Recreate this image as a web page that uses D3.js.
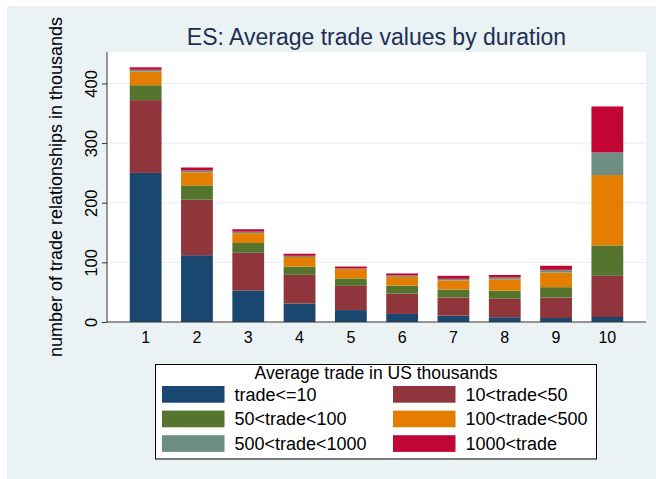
<!DOCTYPE html>
<html>
<head>
  <meta charset="utf-8">
  <title>ES: Average trade values by duration</title>
  <script src="https://d3js.org/d3.v7.min.js"></script>
<style>
  body { margin: 0; background: #fff; }
  svg text { font-family: "Liberation Sans", Arial, sans-serif; }
</style>
</head>
<body>
  <svg width="656" height="479"></svg>
  <script>
    // data (thousands of trade relationships)
    var durations = ["1", "2", "3", "4", "5", "6", "7", "8", "9", "10"];
    var seriesNames = ["trade<=10", "10<trade<50", "50<trade<100", "100<trade<500", "500<trade<1000", "1000<trade"];
    var seriesColors = ["#1a476f", "#90353b", "#55752f", "#e37e00", "#6e8e84", "#c10534"];
    var tradeLe10 = [250, 112, 53, 31, 20, 13.5, 10.7, 8, 6.7, 8.4];
    var trade10to50 = [122, 93, 63, 48, 40.6, 34, 30.3, 31, 34.3, 69];
    var trade50to100 = [25, 24, 16.5, 14, 12.4, 13.5, 13.4, 13.5, 17.4, 51];
    var trade100to500 = [23, 22, 16.5, 16, 15.7, 14.7, 15.2, 19, 24.6, 118];
    var trade500to1000 = [3, 3, 2.5, 2, 1.1, 2.3, 2.8, 3.3, 4.5, 38];
    var tradeGt1000 = [4, 5, 4, 3.5, 3.2, 3.4, 5, 4, 6.8, 77];
    var yTicks = [0, 100, 200, 300, 400];

    var allSeries = [tradeLe10, trade10to50, trade50to100, trade100to500, trade500to1000, tradeGt1000];
    var rows = durations.map(function(d, i) {
      var r = {duration: d};
      seriesNames.forEach(function(s, j) { r[s] = allSeries[j][i]; });
      return r;
    });

    var svg = d3.select("svg");
    var plotLeft = 107, plotRight = 646, plotTop = 52, plotBottom = 322;

    // outer background
    svg.append("rect").attr("x", 7).attr("y", 6).attr("width", 649).attr("height", 473)
      .attr("fill", "#eaf2f3");
    svg.append("rect").attr("x", plotLeft).attr("y", plotTop)
      .attr("width", plotRight - plotLeft).attr("height", plotBottom - plotTop)
      .attr("fill", "#fff");

    var x = d3.scaleBand().domain(durations).range([120, 633])
      .paddingInner(0.38).paddingOuter(0.19);
    var y = d3.scaleLinear().domain([0, 452.7]).range([plotBottom, plotTop]);

    // grid
    svg.append("g").selectAll("line").data(yTicks.slice(1)).enter().append("line")
      .attr("x1", plotLeft).attr("x2", plotRight)
      .attr("y1", function(d) { return y(d); }).attr("y2", function(d) { return y(d); })
      .attr("stroke", "#e6eef1").attr("stroke-width", 1);

    var stacked = d3.stack().keys(seriesNames)(rows);
    svg.append("g").selectAll("g").data(stacked).enter().append("g")
      .attr("fill", function(d, i) { return seriesColors[i]; })
      .selectAll("rect").data(function(d) { return d; }).enter().append("rect")
        .attr("x", function(d) { return x(d.data.duration); })
        .attr("width", x.bandwidth())
        .attr("y", function(d) { return y(d[1]); })
        .attr("height", function(d) { return y(d[0]) - y(d[1]); });

    // y axis
    var yAxis = svg.append("g").attr("transform", "translate(" + plotLeft + ",0)")
      .call(d3.axisLeft(y).tickValues(yTicks).tickSize(5));
    yAxis.select(".domain").attr("stroke", "#333").attr("d", "M0," + plotTop + "V" + plotBottom);
    yAxis.selectAll(".tick line").attr("stroke", "#333");
    yAxis.selectAll(".tick text")
      .attr("font-size", 16.5).attr("fill", "#000")
      .attr("text-anchor", "middle").attr("x", null).attr("y", null).attr("dy", null)
      .attr("transform", "translate(-10,0) rotate(-90)");

    // x axis
    var xAxis = svg.append("g").attr("transform", "translate(0," + plotBottom + ")")
      .call(d3.axisBottom(x).tickSize(0).tickPadding(0));
    xAxis.select(".domain").attr("stroke", "#333").attr("d", "M" + plotLeft + ",0H" + plotRight);
    xAxis.selectAll(".tick text").attr("font-size", 16).attr("fill", "#000")
      .attr("dy", null).attr("y", 21);

    // titles
    svg.append("text").attr("x", (plotLeft + plotRight) / 2).attr("y", 44.5)
      .attr("text-anchor", "middle").attr("font-size", 23).attr("fill", "#1e2f55")
      .text("ES: Average trade values by duration");
    svg.append("text").attr("transform", "translate(62," + ((plotTop + plotBottom) / 2) + ") rotate(-90)")
      .attr("text-anchor", "middle").attr("font-size", 18).attr("fill", "#000")
      .text("number of trade relationships in thousands");

    // legend
    var legend = svg.append("g");
    legend.append("rect").attr("x", 155.5).attr("y", 364.5).attr("width", 441).attr("height", 94.5)
      .attr("fill", "#fff").attr("stroke", "#000").attr("stroke-width", 1);
    legend.append("text").attr("x", 376).attr("y", 378.5)
      .attr("text-anchor", "middle").attr("font-size", 17.5).attr("fill", "#000")
      .text("Average trade in US thousands");
    var item = legend.selectAll("g.item").data(seriesNames).enter().append("g").attr("class", "item")
      .attr("transform", function(d, i) {
        return "translate(" + (i % 2 === 0 ? 162 : 393) + "," + (386 + Math.floor(i / 2) * 24.6) + ")";
      });
    item.append("rect").attr("width", 62.5).attr("height", 16.7)
      .attr("fill", function(d, i) { return seriesColors[i]; });
    item.append("text").attr("x", 72.5).attr("y", 14.6)
      .attr("font-size", 18).attr("fill", "#000")
      .text(function(d) { return d; });
  </script>
</body>
</html>
